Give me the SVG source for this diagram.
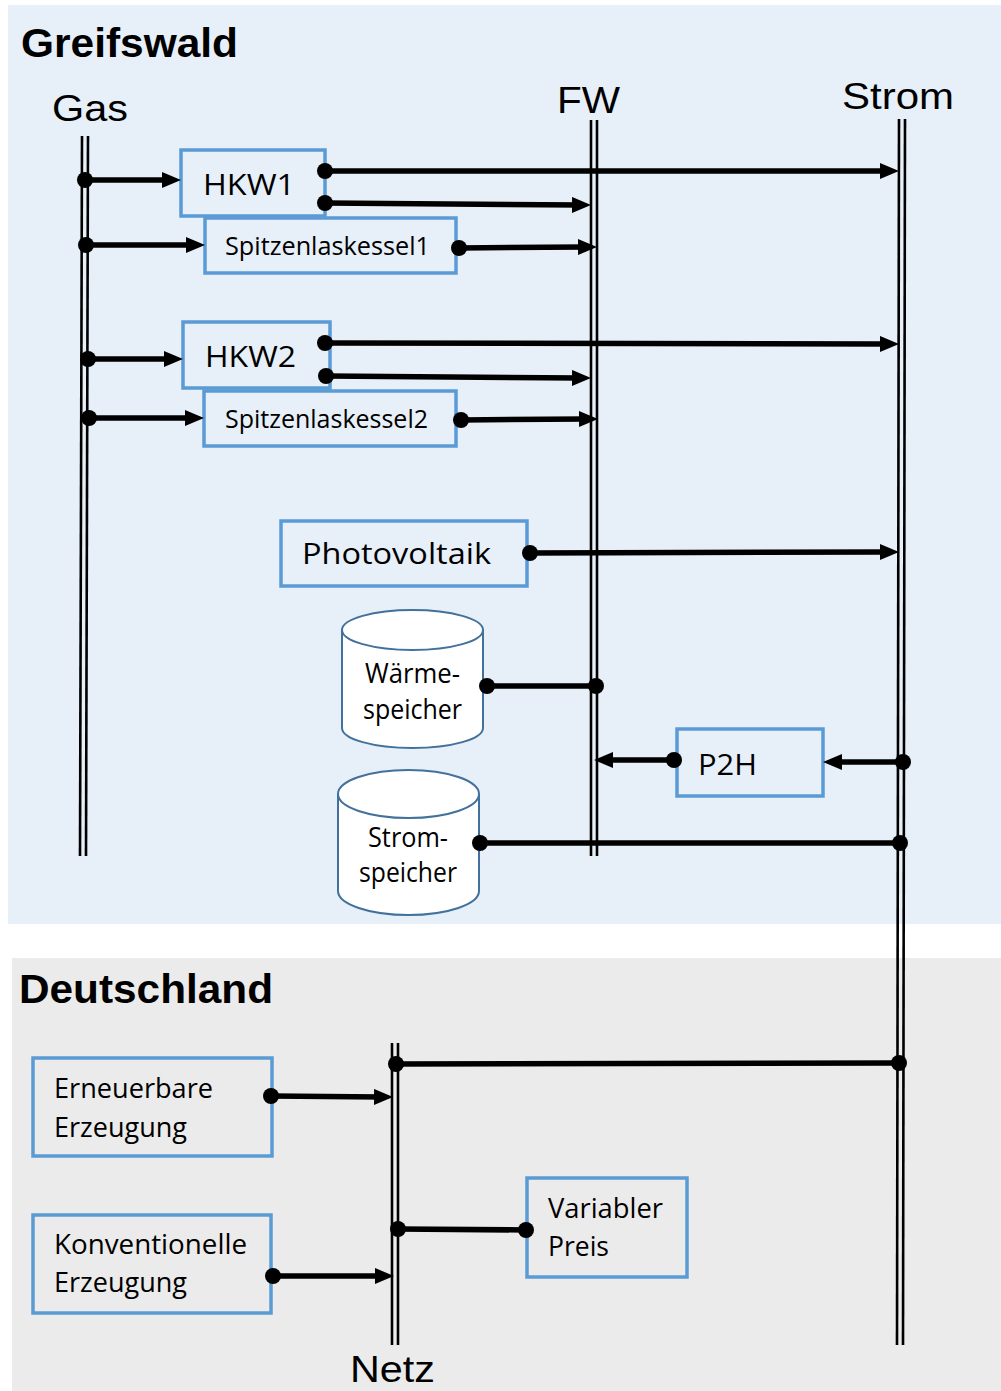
<svg xmlns="http://www.w3.org/2000/svg" width="1001" height="1391" viewBox="0 0 1001 1391">
  <defs>
    <style>
      .title { font-family: "Liberation Sans", Arial, sans-serif; font-weight: bold; font-size: 41px; fill: #000; }
      .bus-label { font-family: "Liberation Sans", Arial, sans-serif; font-size: 37px; fill: #000; }
      .lbl { font-family: "Open Sans", "Noto Sans", sans-serif; fill: #000; }
      .box { fill: none; stroke: #5b9bd5; stroke-width: 3.5; }
      .tank { fill: #ffffff; stroke: #41719c; stroke-width: 2; }
      .bus { stroke: #000; stroke-width: 2.6; fill: none; }
      .link { stroke: #000; stroke-width: 5.5; fill: none; }
      .flow { stroke: #000; stroke-width: 5.5; fill: none; marker-end: url(#arrow); }
      .dot { fill: #000; }
    </style>
    <marker id="arrow" markerUnits="userSpaceOnUse" markerWidth="20" markerHeight="17" refX="7" refY="8" orient="auto">
      <path d="M0,0 L19,8 L0,16 Z" fill="#000"/>
    </marker>
  </defs>

  <!-- regions -->
  <rect x="8" y="5" width="993" height="919" fill="#e7eff8"/>
  <rect x="12" y="958" width="989" height="433" fill="#ebebeb"/>
  <text class="title" x="21" y="57" textLength="217" lengthAdjust="spacingAndGlyphs">Greifswald</text>
  <text class="title" x="19" y="1003" textLength="254" lengthAdjust="spacingAndGlyphs">Deutschland</text>

  <!-- busbars -->
  <g id="bus-gas">
    <line class="bus" x1="82" y1="136" x2="80" y2="856"/>
    <line class="bus" x1="88" y1="136" x2="86" y2="856"/>
    <text class="bus-label" x="52" y="121" font-size="34" textLength="76" lengthAdjust="spacingAndGlyphs">Gas</text>
  </g>
  <g id="bus-fw">
    <line class="bus" x1="591" y1="120" x2="591" y2="856"/>
    <line class="bus" x1="597" y1="120" x2="597" y2="856"/>
    <text class="bus-label" x="557" y="113" font-size="40" textLength="63" lengthAdjust="spacingAndGlyphs">FW</text>
  </g>
  <g id="bus-strom">
    <line class="bus" x1="899" y1="119" x2="897" y2="1345"/>
    <line class="bus" x1="905" y1="119" x2="903" y2="1345"/>
    <text class="bus-label" x="842" y="109" font-size="38" textLength="112" lengthAdjust="spacingAndGlyphs">Strom</text>
  </g>
  <g id="bus-netz">
    <line class="bus" x1="392" y1="1043" x2="392" y2="1345"/>
    <line class="bus" x1="398" y1="1043" x2="398" y2="1345"/>
    <text class="bus-label" x="350" y="1382" font-size="35" textLength="85" lengthAdjust="spacingAndGlyphs">Netz</text>
  </g>

  <!-- units -->
  <g id="hkw1">
    <rect class="box" x="181" y="150" width="144" height="66"/>
    <text class="lbl" x="203" y="195" font-size="30" textLength="92" lengthAdjust="spacingAndGlyphs">HKW1</text>
  </g>
  <g id="spitzenlaskessel1">
    <rect class="box" x="205" y="218" width="251" height="55"/>
    <text class="lbl" x="225" y="255" font-size="25" textLength="205" lengthAdjust="spacingAndGlyphs">Spitzenlaskessel1</text>
  </g>
  <g id="hkw2">
    <rect class="box" x="183" y="322" width="147" height="66"/>
    <text class="lbl" x="205" y="367" font-size="30" textLength="91" lengthAdjust="spacingAndGlyphs">HKW2</text>
  </g>
  <g id="spitzenlaskessel2">
    <rect class="box" x="204" y="391" width="252" height="55"/>
    <text class="lbl" x="225" y="428" font-size="25" textLength="203" lengthAdjust="spacingAndGlyphs">Spitzenlaskessel2</text>
  </g>
  <g id="photovoltaik">
    <rect class="box" x="281" y="521" width="246" height="65"/>
    <text class="lbl" x="302" y="564" font-size="30" textLength="189" lengthAdjust="spacingAndGlyphs">Photovoltaik</text>
  </g>
  <g id="waermespeicher">
    <path class="tank" d="M342,630 A70.5,20 0 0 1 483,630 V728 A70.5,20 0 0 1 342,728 Z"/>
    <path class="tank" fill="none" d="M342,630 A70.5,20 0 0 0 483,630"/>
    <text class="lbl" x="365" y="683" font-size="27" textLength="95" lengthAdjust="spacingAndGlyphs">Wärme-</text>
    <text class="lbl" x="363" y="719" font-size="27" textLength="99" lengthAdjust="spacingAndGlyphs">speicher</text>
  </g>
  <g id="p2h">
    <rect class="box" x="677" y="729" width="146" height="67"/>
    <text class="lbl" x="698" y="775" font-size="30" textLength="59" lengthAdjust="spacingAndGlyphs">P2H</text>
  </g>
  <g id="stromspeicher">
    <path class="tank" d="M338,794 A70.5,24 0 0 1 479,794 V891 A70.5,24 0 0 1 338,891 Z"/>
    <path class="tank" fill="none" d="M338,794 A70.5,24 0 0 0 479,794"/>
    <text class="lbl" x="368" y="847" font-size="27" textLength="80" lengthAdjust="spacingAndGlyphs">Strom-</text>
    <text class="lbl" x="359" y="882" font-size="27" textLength="98" lengthAdjust="spacingAndGlyphs">speicher</text>
  </g>
  <g id="erneuerbare-erzeugung">
    <rect class="box" x="33" y="1058" width="239" height="98"/>
    <text class="lbl" x="54" y="1098" font-size="27" textLength="159" lengthAdjust="spacingAndGlyphs">Erneuerbare</text>
    <text class="lbl" x="54" y="1137" font-size="27" textLength="133" lengthAdjust="spacingAndGlyphs">Erzeugung</text>
  </g>
  <g id="konventionelle-erzeugung">
    <rect class="box" x="33" y="1215" width="238" height="98"/>
    <text class="lbl" x="54" y="1254" font-size="27" textLength="193" lengthAdjust="spacingAndGlyphs">Konventionelle</text>
    <text class="lbl" x="54" y="1292" font-size="27" textLength="133" lengthAdjust="spacingAndGlyphs">Erzeugung</text>
  </g>
  <g id="variabler-preis">
    <rect class="box" x="527" y="1178" width="160" height="99"/>
    <text class="lbl" x="548" y="1218" font-size="27" textLength="115" lengthAdjust="spacingAndGlyphs">Variabler</text>
    <text class="lbl" x="548" y="1256" font-size="27" textLength="61" lengthAdjust="spacingAndGlyphs">Preis</text>
  </g>

  <!-- connectors -->
  <g id="connectors">
    <!-- gas supply -->
    <path class="flow" d="M85,180 L169,180"/>
    <path class="flow" d="M86,245 L193,245"/>
    <path class="flow" d="M88,359 L171,359"/>
    <path class="flow" d="M89,418 L192,418"/>
    <!-- electricity and heat output -->
    <path class="flow" d="M325,171 L887,171"/>
    <path class="flow" d="M325,203 L579,205"/>
    <path class="flow" d="M459,248 L585,247"/>
    <path class="flow" d="M325,343 L887,344"/>
    <path class="flow" d="M326,376 L579,378"/>
    <path class="flow" d="M461,420 L586,419"/>
    <path class="flow" d="M530,553 L887,552"/>
    <!-- storage -->
    <path class="link" d="M487,686 L594,686"/>
    <path class="link" d="M480,843 L900,843"/>
    <!-- power to heat -->
    <path class="flow" d="M674,760 L606,760"/>
    <path class="flow" d="M903,762 L835,762"/>
    <!-- national grid -->
    <path class="link" d="M396,1064 L899,1063"/>
    <path class="flow" d="M271,1096 L381,1097"/>
    <path class="flow" d="M273,1276 L382,1276"/>
    <path class="link" d="M398,1229 L526,1230"/>

    <circle class="dot" cx="85" cy="180" r="8"/>
    <circle class="dot" cx="86" cy="245" r="8"/>
    <circle class="dot" cx="88" cy="359" r="8"/>
    <circle class="dot" cx="89" cy="418" r="8"/>
    <circle class="dot" cx="325" cy="171" r="8"/>
    <circle class="dot" cx="325" cy="203" r="8"/>
    <circle class="dot" cx="459" cy="248" r="8"/>
    <circle class="dot" cx="325" cy="343" r="8"/>
    <circle class="dot" cx="326" cy="376" r="8"/>
    <circle class="dot" cx="461" cy="420" r="8"/>
    <circle class="dot" cx="530" cy="553" r="8"/>
    <circle class="dot" cx="487" cy="686" r="8"/>
    <circle class="dot" cx="596" cy="686" r="8"/>
    <circle class="dot" cx="674" cy="760" r="8"/>
    <circle class="dot" cx="903" cy="762" r="8"/>
    <circle class="dot" cx="480" cy="843" r="8"/>
    <circle class="dot" cx="900" cy="843" r="8"/>
    <circle class="dot" cx="396" cy="1064" r="8"/>
    <circle class="dot" cx="899" cy="1063" r="8"/>
    <circle class="dot" cx="271" cy="1096" r="8"/>
    <circle class="dot" cx="273" cy="1276" r="8"/>
    <circle class="dot" cx="398" cy="1229" r="8"/>
    <circle class="dot" cx="526" cy="1230" r="8"/>
  </g>
</svg>
